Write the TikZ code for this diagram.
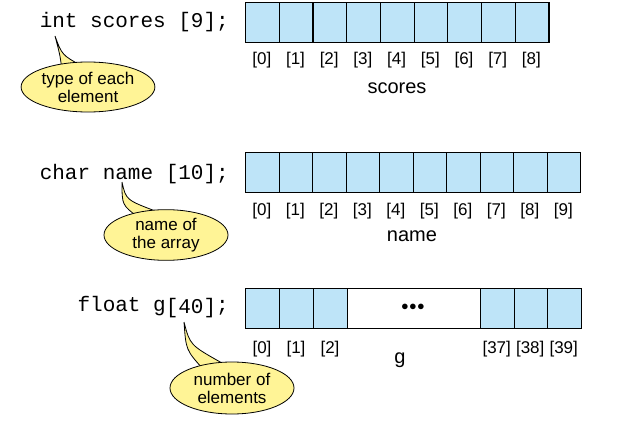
\documentclass[tikz,border=0pt]{standalone}
\usepackage{fontspec}
\setmainfont{Liberation Sans}
\newfontfamily\codefont{Liberation Mono}
\usetikzlibrary{shapes.geometric}
\definecolor{cellblue}{RGB}{190,228,248}
\definecolor{calloutyellow}{RGB}{255,244,150}
\begin{document}
\begin{tikzpicture}[x=1pt,y=-1pt,
  cell/.style={draw,fill=cellblue,line width=1.2pt,minimum height=40pt,inner sep=0pt,anchor=north west},
  idx/.style={font=\fontsize{17}{18}\selectfont,inner sep=0pt},
  code/.style={font=\codefont\fontsize{21}{22}\selectfont,inner sep=0pt,anchor=east},
  lbl/.style={font=\fontsize{20}{22}\selectfont,inner sep=0pt},
  bubble/.style={ellipse,draw,fill=calloutyellow,line width=0.8pt,align=center,inner sep=1pt,font=\fontsize{17}{18}\selectfont},
  tail/.style={draw,fill=calloutyellow,line width=0.8pt}]
\useasboundingbox (0,0) rectangle (618,428);
% code
\node[code] (c1) at (229,22) {int scores [9];};
\node[code] (c2) at (229,174) {char name [10];};
\node[code] (c3) at (229,307) {float g\raisebox{-2pt}{[40]};};
% array 1
\foreach \i in {0,...,8}{
  \node[cell,minimum width=33.7pt] (a\i) at ({245+33.7*\i},2) {};
  \node[idx] (ai\i) at ({261.8+33.7*\i},60) {[\i]};
}
\node[lbl] (n1) at (397,88) {scores};
% array 2
\foreach \i in {0,...,9}{
  \node[cell,minimum width=33.5pt] (b\i) at ({245+33.5*\i},152) {};
  \node[idx] (bi\i) at ({261.8+33.5*\i},211) {[\i]};
}
\node[lbl] (n2) at (412,236) {name};
% array 3
\foreach \i/\x in {0/245,1/279,2/313}{
  \node[cell,minimum width=34pt] (g\i) at (\x,288) {};
  \node[idx] (gi\i) at (\x+17,349) {[\i]};
}
\node[cell,fill=white,minimum width=133pt] (gdots) at (347,288) {};
\node[font=\fontsize{14}{14}\selectfont] (dots) at (413,307) {$\bullet\!\bullet\!\bullet$};
\foreach \i/\x in {37/480,38/513.5,39/547}{
  \node[cell,minimum width=33.5pt] (g\i) at (\x,288) {};
  \node[idx] (gi\i) at (\x+16.7,349) {[\i]};
}
\node[lbl] (n3) at (400,360) {g};
% callouts
\coordinate (t1) at (55,36);
\draw[tail] (t1) .. controls (62,55) .. (82,66) -- (62,70) .. controls (60,55) .. (t1);
\node[bubble,minimum width=112pt,minimum height=50pt] (e1) at (88,87) {type of each\\element};
\coordinate (t2) at (122,182);
\draw[tail] (t2) .. controls (126,200) .. (158,212) -- (138,217) .. controls (122,205) .. (t2);
\node[bubble,minimum width=124pt,minimum height=50pt] (e2) at (166,235) {name of\\the array};
\coordinate (t3) at (184,322);
\draw[tail] (t3) .. controls (190,345) .. (222,363) -- (203,369) .. controls (186,350) .. (t3);
\node[bubble,minimum width=124pt,minimum height=52pt] (e3) at (232,388) {number of\\elements};
\end{tikzpicture}
\end{document}
